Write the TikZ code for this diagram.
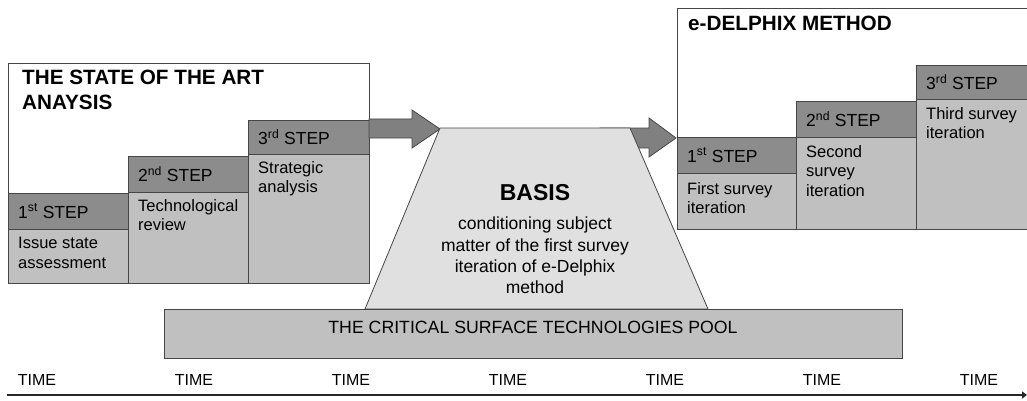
\documentclass[tikz,border=0pt]{standalone}
\usepackage{fontspec}
\setmainfont{Liberation Sans}
\usetikzlibrary{arrows.meta,calc}
\definecolor{headgray}{RGB}{140,140,140}
\definecolor{bodygray}{RGB}{192,192,192}
\definecolor{basisgray}{RGB}{224,224,224}
\definecolor{arrowgray}{RGB}{128,128,128}
\definecolor{linegray}{RGB}{70,70,70}
\tikzset{
	frame/.style={draw=linegray, fill=white, line width=0.8pt},
	headbox/.style={draw=linegray, fill=headgray, line width=0.8pt},
	bodybox/.style={draw=linegray, fill=bodygray, line width=0.8pt},
	blockarrow/.style={draw=linegray, fill=arrowgray, line width=0.8pt},
	headtext/.style={anchor=west, inner sep=0pt, font=\fontsize{17.5}{19}\selectfont},
	bodytext/.style={anchor=north west, inner sep=0pt, align=left, font=\fontsize{16.5}{19.5}\selectfont},
	titletext/.style={anchor=north west, inner sep=0pt, align=left, font=\fontsize{20.7}{25}\selectfont\bfseries},
	timetext/.style={inner sep=0pt, font=\fontsize{16}{17}\selectfont}
}

\begin{document}
\begin{tikzpicture}[x=1pt, y=-1pt]
			\useasboundingbox (0,0) rectangle (1027,401);

			% state of the art analysis
			\draw[frame] (8,63) rectangle (369,283);
			\node[titletext] (arttitle) at (22,70) {THE STATE OF THE ART\\ANAYSIS};

			\draw[headbox] (8,193) rectangle (128,229);
			\draw[bodybox] (8,229) rectangle (128,283);
			\draw[headbox] (128,156) rectangle (248,192);
			\draw[bodybox] (128,192) rectangle (248,283);
			\draw[headbox] (248,120) rectangle (369,154);
			\draw[bodybox] (248,154) rectangle (369,283);
			\node[headtext] (art1h) at (18,211) {1\textsuperscript{st} STEP};
			\node[headtext] (art2h) at (138,174) {2\textsuperscript{nd} STEP};
			\node[headtext] (art3h) at (258,137) {3\textsuperscript{rd} STEP};
			\node[bodytext] (art1b) at (18,237) {Issue state\\assessment};
			\node[bodytext] (art2b) at (138,199) {Technological\\review};
			\node[bodytext] (art3b) at (258,161) {Strategic\\analysis};

			% arrows
			\draw[blockarrow] (600,128) -- (649,128) -- (649,118) -- (676,138) -- (649,157) -- (649,148) -- (600,148) -- cycle;
			\draw[blockarrow] (369,119) -- (412,119) -- (412,110) -- (440,129) -- (412,148) -- (412,138) -- (369,138) -- cycle;

			% basis
			\draw[draw=linegray, fill=basisgray, line width=0.8pt] (440,128) -- (630,128) -- (708,309) -- (365,309) -- cycle;
			\node[font=\fontsize{23}{25}\selectfont\bfseries, inner sep=0pt] (basis) at (535,193) {BASIS};
			\node[font=\fontsize{17.5}{21.3}\selectfont, align=center, anchor=north, inner sep=0pt] (basistext) at (535,217)
				{conditioning subject\\matter of the first survey\\iteration of e-Delphix\\method};

			% pool
			\draw[bodybox] (164,309) rectangle (902,358);
			\node[font=\fontsize{17.7}{19}\selectfont, inner sep=0pt] (pool) at (533,327) {THE CRITICAL SURFACE TECHNOLOGIES POOL};

			% e-delphix method
			\draw[frame] (677,8) rectangle (1032,229);
			\node[titletext] (deltitle) at (688,16) {e-DELPHIX METHOD};

			\draw[headbox] (677,137) rectangle (796,173);
			\draw[bodybox] (677,173) rectangle (796,229);
			\draw[headbox] (796,101) rectangle (916,137);
			\draw[bodybox] (796,137) rectangle (916,229);
			\draw[headbox] (916,65) rectangle (1032,99);
			\draw[bodybox] (916,99) rectangle (1032,229);
			\node[headtext] (del1h) at (687,155) {1\textsuperscript{st} STEP};
			\node[headtext] (del2h) at (806,119) {2\textsuperscript{nd} STEP};
			\node[headtext] (del3h) at (926,82) {3\textsuperscript{rd} STEP};
			\node[bodytext] (del1b) at (687,182) {First survey\\iteration};
			\node[bodytext] (del2b) at (806,145) {Second\\survey\\iteration};
			\node[bodytext] (del3b) at (926,107) {Third survey\\iteration};

			% time axis
			\foreach \i in {0,...,6}
				\node[timetext] (time\i) at (37+157*\i,380) {TIME};
			\coordinate (axisstart) at (7,395);
			\coordinate (axisend) at (1027,395);
			\draw[line width=2.2pt, black!85, -{Triangle[length=5pt,width=7pt]}] (axisstart) -- (axisend);
		\end{tikzpicture}
\end{document}
